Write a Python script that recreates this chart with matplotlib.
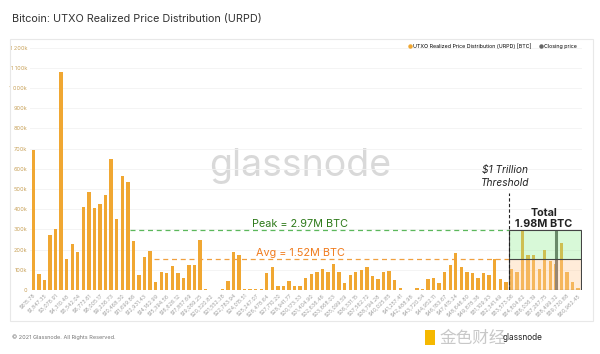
import matplotlib
matplotlib.use("Agg")
import matplotlib.pyplot as plt
from matplotlib.patches import Rectangle
from matplotlib.lines import Line2D

plt.rcParams['font.family'] = ['Inter', 'DejaVu Sans']

# URPD en miles de BTC, un valor por barra (ancho de bin 615.78 USD)
urpd = [693, 78, 50, 272, 300, 1080, 152, 228, 190, 412,
        485, 406, 426, 470, 648, 350, 563, 533, 241, 74,
        165, 195, 41, 89, 83, 119, 86, 59, 124, 126,
        248, 3, 2, 0, 3, 45, 188, 172, 3, 3,
        3, 3, 86, 116, 21, 21, 45, 22, 22, 58,
        79, 91, 103, 91, 127, 91, 36, 74, 87, 99,
        112, 69, 53, 90, 95, 49, 11, 1, 2, 8,
        6, 54, 58, 36, 91, 124, 185, 112, 89, 86,
        58, 86, 74, 152, 54, 40, 104, 91, 290, 173,
        173, 102, 198, 145, 130, 231, 91, 41, 11]

precios = ["$615.78", "$1,847.35", "$3,078.91", "$4,310.48", "$5,542.04",
           "$6,773.61", "$8,005.17", "$9,236.73", "$10,468.30", "$11,699.86",
           "$12,931.43", "$14,162.99", "$15,394.56", "$16,626.12", "$17,857.69",
           "$19,089.25", "$20,320.82", "$21,552.38", "$22,783.94", "$24,015.51",
           "$25,247.07", "$26,478.64", "$27,710.20", "$28,941.77", "$30,173.33",
           "$31,404.90", "$32,636.46", "$33,868.03", "$35,099.59", "$36,331.15",
           "$37,562.72", "$38,794.28", "$40,025.85", "$41,257.41", "$42,488.98",
           "$43,720.54", "$44,952.11", "$46,183.67", "$47,415.24", "$48,646.80",
           "$49,878.36", "$51,109.93", "$52,341.49", "$53,573.06", "$54,804.62",
           "$56,036.19", "$57,267.75", "$58,499.32", "$59,730.88", "$60,962.45"]

y_ticks = [0, 100, 200, 300, 400, 500, 600, 700, 800, 900, 1000, 1100, 1200]
y_labels = ["0", "100k", "200k", "300k", "400k", "500k", "600k", "700k",
            "800k", "900k", "1 000k", "1 100k", "1 200k"]

pico = 297      # 2.97M BTC
promedio = 152  # 1.52M BTC
umbral = 85.5   # $1 trillion
cierre = 94     # barra del precio de cierre

fig = plt.figure(figsize=(6, 3.54), dpi=100)
fig.patches.append(Rectangle((10/600, 1-321/354), 583/600, 282/354, transform=fig.transFigure,
                             fill=False, edgecolor='#e8e8e8', linewidth=0.8))
ax = fig.add_axes([30/600, 64/354, 552/600, 248.5/354])

x = list(range(len(urpd)))
ax.bar(x, urpd, width=0.6, color='#f0a732', zorder=2)

ax.set_xlim(-0.6, 98.7)
ax.set_ylim(0, 1230)
ax.set_yticks(y_ticks)
ax.set_yticklabels(y_labels, fontsize=4, color='#c9a35c')
ax.set_xticks(x[::2])
ax.set_xticklabels(precios, fontsize=3.8, color='#a0a0a0', rotation=45, ha='right', rotation_mode='anchor')
ax.tick_params(length=0, pad=2)
ax.grid(axis='y', color='#f2f2f2', linewidth=0.6, zorder=0)
for s in ax.spines.values():
    s.set_visible(False)

# lineas de pico y promedio
ax.hlines(pico, 17.4, umbral, colors='#5cb85c', linestyles=(0, (4, 3)), linewidth=0.9, zorder=3)
ax.hlines(promedio, 21.7, umbral, colors='#f0a040', linestyles=(0, (4, 3)), linewidth=0.9, zorder=3)
ax.text(48, 327, "Peak = 2.97M BTC", color='#2e7a1a', fontsize=7.8, ha='center', va='center')
ax.text(48, 185, "Avg = 1.52M BTC", color='#f07c1e', fontsize=7.8, ha='center', va='center')

# zona por encima del umbral
ax.vlines(cierre, 0, pico, colors='#555555', linewidth=2.2, zorder=3)
ax.add_patch(Rectangle((umbral, promedio), 98.6-umbral, pico-promedio, facecolor='#90ee90',
                       alpha=0.35, edgecolor='none', zorder=4))
ax.add_patch(Rectangle((umbral, 0), 98.6-umbral, promedio, facecolor='#ffd0a0',
                       alpha=0.4, edgecolor='none', zorder=4))
ax.add_patch(Rectangle((umbral, 0), 98.6-umbral, pico, fill=False, edgecolor='#444444',
                       linewidth=0.8, zorder=5))
ax.hlines(promedio, umbral, 98.6, colors='#444444', linewidth=0.8, zorder=5)
ax.vlines(umbral, 0, 480, colors='#222222', linestyles=(0, (3, 2)), linewidth=0.8, zorder=6)
ax.text(84.8, 561, "$1 Trillion\nThreshold", fontsize=7.3, style='italic', color='#222222',
        ha='center', va='center', linespacing=1.3)
ax.text(91.8, 354, "Total\n1.98M BTC", fontsize=7.8, fontweight='bold', color='#222222',
        ha='center', va='center', linespacing=1.2)

# marca de agua
ax.text(48, 615, "glassnode", fontsize=27, color='#d9d9d9', ha='center', va='center', zorder=1)

handles = [Line2D([], [], marker='o', linestyle='none', markersize=2.2, color='#f0a732'),
           Line2D([], [], marker='o', linestyle='none', markersize=2.2, color='#666666')]
fig.legend(handles, ["UTXO Realized Price Distribution (URPD) [BTC]", "Closing price"],
           loc='center right', bbox_to_anchor=(582/600, 1-46/354), ncol=2, frameon=False,
           fontsize=3.8, handletextpad=0.3, columnspacing=1.5, handlelength=0.6)

fig.text(12/600, 1-19/354, "Bitcoin: UTXO Realized Price Distribution (URPD)", fontsize=7.8,
         color='#333333', va='center')
fig.text(12/600, 1-337/354, "© 2021 Glassnode. All Rights Reserved.", fontsize=4,
         color='#777777', va='center')
fig.patches.append(Rectangle((425/600, 1-345/354), 10/600, 15/354, transform=fig.transFigure,
                             facecolor='#f5b800', edgecolor='none'))
fig.text(440/600, 1-338/354, "金色财经", fontsize=12, color='#c8c8c8', va='center',
         family=['Noto Sans CJK SC', 'DejaVu Sans'])
fig.text(503/600, 1-338/354, "glassnode", fontsize=6, color='#222222', va='center')

fig.savefig("out.png", dpi=100)
